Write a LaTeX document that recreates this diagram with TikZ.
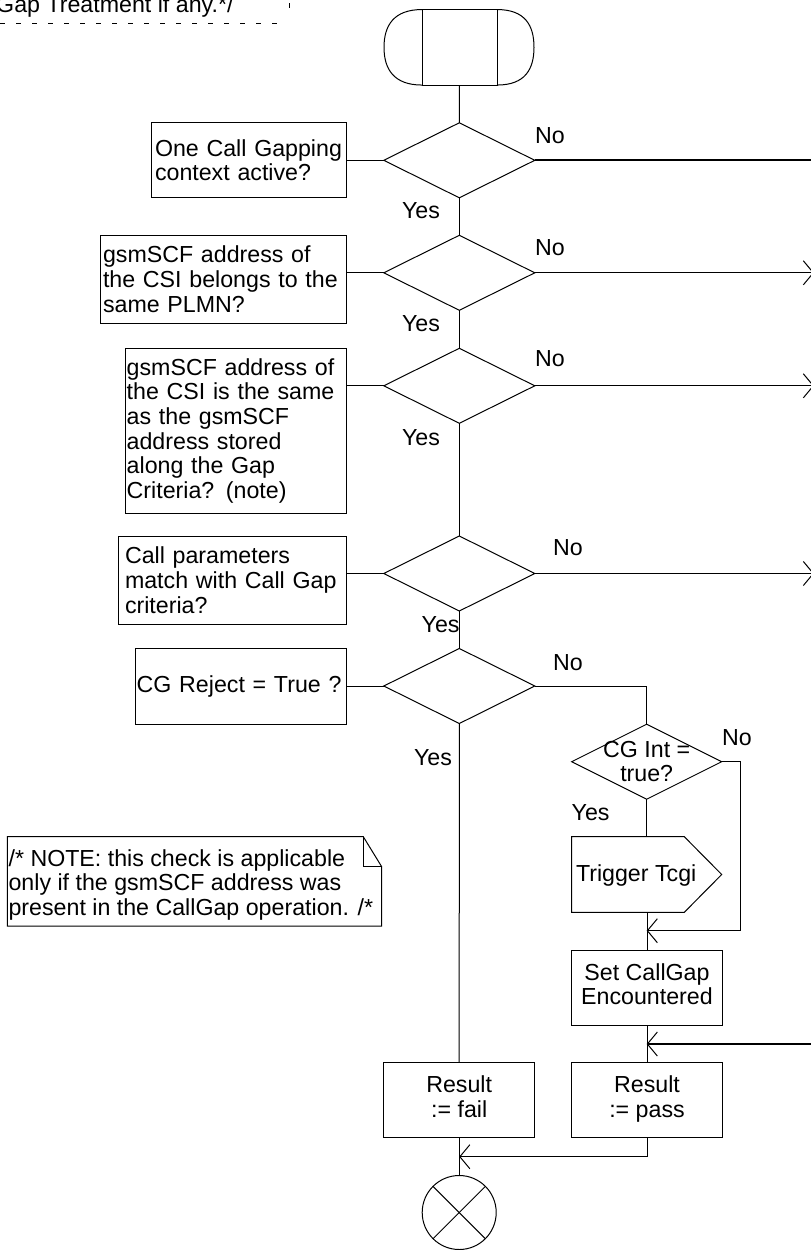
\documentclass[tikz,border=0pt]{standalone}
\usepackage{fontspec}
\setmainfont{Liberation Sans}
\usetikzlibrary{shapes.geometric,arrows.meta,calc}
\begin{document}
\begin{tikzpicture}[x=1pt,y=-1pt,
  every node/.style={font=\fontsize{23.2}{24.6}\selectfont, outer sep=0pt},
  ln/.style={line width=1pt},
  thk/.style={line width=1.7pt},
  arr/.style={line width=1pt,-{Straight Barb[length=10pt,width=24pt]}},
  dia/.style={draw,line width=1pt,diamond,minimum width=151pt,minimum height=75pt,inner sep=0pt},
  cbox/.style={draw,line width=1pt,rectangle,align=left,inner ysep=0pt,anchor=north east},
  pbox/.style={draw,line width=1pt,rectangle,align=center,minimum width=150.6pt,minimum height=75pt,inner sep=0pt},
  lbl/.style={anchor=base west,inner sep=0pt}]
\useasboundingbox (0,0) rectangle (811,1250);

% top comment remainder
\node[anchor=base east,inner sep=0pt] (gaptxt) at (233.5,12.3) {Gap Treatment if any.*/};
\draw[ln,dash pattern=on 4.5pt off 11.5pt] (0,23.3) -- (288,23.3);
\draw[ln] (289,3) -- (289,8);

% start symbol
\node[draw,line width=1pt,rectangle,minimum width=75pt,minimum height=75.5pt,inner sep=0pt] (start) at (459.5,47.3) {};
\draw[ln] (start.north west) .. controls +(-28,0) and +(0,-22) .. ($(start.west)+(-38,0)$)
          .. controls +(0,22) and +(-28,0) .. (start.south west);
\draw[ln] (start.north east) .. controls +(28,0) and +(0,-22) .. ($(start.east)+(37,0)$)
          .. controls +(0,22) and +(28,0) .. (start.south east);

% decisions
\node[dia] (d1) at (459.3,160.3) {};
\node[dia] (d2) at (459.3,272.8) {};
\node[dia] (d3) at (459.3,385.8) {};
\node[dia] (d4) at (459.3,573.5) {};
\node[dia] (d5) at (459.3,686.0) {};

% comment boxes
\node[cbox,minimum width=195pt,minimum height=75pt,text width=188.4pt,inner xsep=3.3pt] (c1) at (346.7,122.7) {One Call Gapping\\context active?};
\node[cbox,minimum width=246.7pt,minimum height=88.3pt,text width=240.7pt,inner xsep=3pt] (c2) at (346.7,235) {gsmSCF address of\\the CSI belongs to the\\same PLMN?};
\node[cbox,minimum width=221.7pt,minimum height=165pt,text width=218.3pt,inner xsep=1.7pt] (c3) at (346.7,348.3) {gsmSCF address of\\the CSI is the same\\as the gsmSCF\\address stored\\along the Gap\\Criteria? (note)};
\node[cbox,minimum width=228.4pt,minimum height=88.3pt,text width=215pt,inner xsep=6.7pt] (c4) at (346.7,536) {Call parameters\\match with Call Gap\\criteria?};
\node[cbox,minimum width=211.7pt,minimum height=75.7pt,text width=208.3pt,inner xsep=1.7pt] (c5) at (346.7,648.3) {CG Reject = True ?};

\draw[ln] (c1.east |- d1.west) -- (d1.west);
\draw[ln] (c2.east |- d2.west) -- (d2.west);
\draw[ln] (c3.east |- d3.west) -- (d3.west);
\draw[ln] (c4.east |- d4.west) -- (d4.west);
\draw[ln] (c5.east |- d5.west) -- (d5.west);

% main flow
\draw[ln] (start.south) -- (d1.north);
\draw[ln] (d1.south) -- (d2.north);
\draw[ln] (d2.south) -- (d3.north);
\draw[ln] (d3.south) -- (d4.north);
\draw[ln] (d4.south) -- (d5.north);

% No exits
\coordinate (r1) at (812,160.3);
\coordinate (r2) at (814,272.8);
\coordinate (r3) at (814,385.8);
\coordinate (r4) at (814,573.5);
\draw[thk] (d1.east) -- (r1);
\draw[arr] (d2.east) -- (r2);
\draw[arr] (d3.east) -- (r3);
\draw[arr] (d4.east) -- (r4);

% labels
\node[lbl] (no1) at (535,143.3) {No};
\node[lbl] (no2) at (535,255) {No};
\node[lbl] (no3) at (535,366.7) {No};
\node[lbl] (no4) at (553,555) {No};
\node[lbl] (no5) at (553,670) {No};
\node[lbl] (yes1) at (402,218) {Yes};
\node[lbl] (yes2) at (402,331.7) {Yes};
\node[lbl] (yes3) at (402,445) {Yes};
\node[lbl] (yes4) at (421.7,632.7) {Yes};
\node[lbl] (yes5) at (414,765) {Yes};

% CG Int branch
\node[draw,line width=1pt,diamond,minimum width=150pt,minimum height=75pt,inner sep=0pt] (cgint) at (646.7,761.7) {};
\node[align=center,inner sep=0pt] (cgtxt) at (cgint) {CG Int =\\true?};
\draw[ln] (d5.east) -| (cgint.north);
\node[lbl] (no6) at (722,745) {No};
\node[lbl] (yes6) at (571.7,820) {Yes};

\node[minimum width=150pt,minimum height=75.6pt,inner sep=0pt,anchor=north west] (trig) at (571.7,836.7) {};
\draw[ln] (trig.north west) -- ($(trig.north west)+(112.6,0)$) -- (trig.east)
   -- ($(trig.south west)+(112.6,0)$) -- (trig.south west) -- cycle;
\node[lbl] (trigtxt) at (576,881.7) {Trigger Tcgi};
\draw[ln] (cgint.south) -- (trig.north west -| cgint.south);

\node[pbox] (setcg) at (647,987.5) {\strut Set CallGap\\\strut Encountered};
\coordinate (j1) at (646.7,930.7);
\draw[ln] (trig.south west -| setcg.north) -- (setcg.north);
\draw[arr] (cgint.east) -- ++(19,0) |- (j1);

\node[pbox] (rpass) at (647,1100.2) {\strut Result\\\strut := pass};
\coordinate (j2) at (646.7,1044);
\coordinate (r5) at (816,1044);
\draw[ln] (setcg.south) -- (rpass.north);
\draw[thk,-{Straight Barb[length=10pt,width=24pt,line width=1pt]}] (r5) -- (j2);

\node[pbox] (rfail) at (459.2,1100.2) {\strut Result\\\strut := fail};
\draw[ln] (d5.south) -- (rfail.north);

\node[draw,circle,line width=1pt,minimum size=74pt,inner sep=0pt] (stop) at (459.2,1212.5) {};
\draw[ln] (stop.north west) -- (stop.south east);
\draw[ln] (stop.north east) -- (stop.south west);
\coordinate (j3) at (459.2,1156.7);
\draw[ln] (rfail.south) -- (stop.north);
\draw[arr] (rpass.south) |- (j3);

% note
\node[anchor=north west,minimum width=374.4pt,minimum height=89.3pt,inner sep=0pt] (note) at (7.3,836.7) {};
\node[anchor=north west,align=left,inner sep=0pt] (notetxt) at (8.6,849.5)
  {/* NOTE: this check is applicable\\only if the gsmSCF address was\\present in the CallGap operation. /*};
\draw[ln] (note.north west) -- ($(note.north east)+(-18.4,0)$) -- ($(note.north east)+(0,30)$) -- (note.south east) -- (note.south west) -- cycle;
\draw[ln] ($(note.north east)+(-18.4,0)$) -- ($(note.north east)+(-18.4,30)$) -- ($(note.north east)+(0,30)$);
\end{tikzpicture}
\end{document}
